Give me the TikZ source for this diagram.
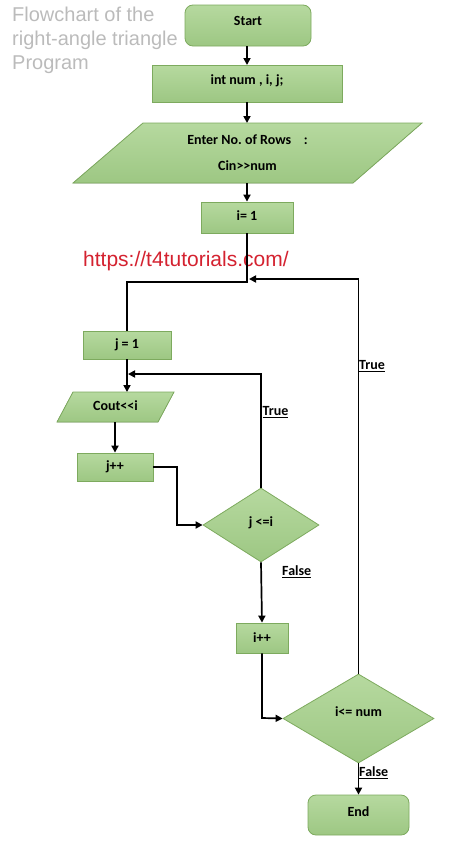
\documentclass[tikz,border=0pt]{standalone}
\usepackage{fontspec}
\setmainfont{Carlito}
\newfontfamily\arialfont{Liberation Sans}
\usetikzlibrary{shapes.geometric,arrows.meta}
\definecolor{boxtop}{HTML}{B6D99F}
\definecolor{boxbot}{HTML}{9DC783}
\definecolor{boxline}{HTML}{7DAA5E}
\definecolor{titlegray}{HTML}{BBBBBB}
\definecolor{urlred}{HTML}{D42230}
\frenchspacing
\begin{document}
\begin{tikzpicture}[x=1pt,y=-1pt,
  boxtxt/.style={font=\bfseries\fontsize{14}{16}\selectfont},
  lift/.style={text height=10pt, text depth=#1},
  greenfill/.style={draw=boxline, line width=0.8pt, top color=boxtop, bottom color=boxbot},
  proc/.style={greenfill, boxtxt, rectangle, inner sep=0pt},
  term/.style={proc, rounded corners=8pt},
  decide/.style={greenfill, boxtxt, diamond, inner sep=0pt},
  ionode/.style={boxtxt, rectangle, inner sep=0pt},
  conn/.style={line width=1.7pt, black},
  arr/.style={conn, -{Triangle[length=7pt,width=7pt]}},
  lbl/.style={font=\bfseries\fontsize{14}{16}\selectfont, anchor=west, inner sep=0pt}
]
\useasboundingbox (0,0) rectangle (464,846);

% title and url
\node[anchor=north west, align=left, inner sep=0pt, text=titlegray,
      font=\arialfont\fontsize{20}{24}\selectfont] (title) at (12,7)
  {Flowchart of the\\right-angle triangle\\Program};

% nodes
\node[term, lift=10pt, minimum width=126pt, minimum height=41pt] (start) at (248,25.5) {Start};
\node[proc, lift=9pt, minimum width=190pt, minimum height=37pt] (decl) at (247,83.5) {int num , i, j;};

\fill[greenfill] (143,123) -- (422,123) -- (353,183) -- (73,183) -- cycle;
\node[ionode, minimum width=210pt, minimum height=60pt, align=center] (inp) at (247.5,153)
  {Enter No. of Rows\ \ \ \ :\\[10pt]Cin>\kern0pt>num};

\node[proc, lift=4pt, minimum width=92pt, minimum height=31pt] (ione) at (247,217.5) {i= 1};

\node[anchor=west, inner sep=0pt, text=urlred,
      font=\arialfont\fontsize{21}{24}\selectfont] (url) at (83,261) {https://t4tutorials.com/};

\node[proc, minimum width=88pt, minimum height=28pt] (jone) at (127,345) {j = 1};

\fill[greenfill] (73,392) -- (174,392) -- (158,422) -- (57,422) -- cycle;
\node[ionode, lift=4pt, minimum width=90pt, minimum height=30pt] (cout) at (115.5,407) {Cout<\kern0pt<i};

\node[proc, minimum width=76pt, minimum height=28pt] (jpp) at (115,467) {j++};

\node[decide, lift=8pt, minimum width=116pt, minimum height=74pt] (djj) at (261,525) {j <=i};

\node[proc, minimum width=52pt, minimum height=30pt] (ipp) at (262,638) {i++};

\node[decide, lift=14pt, minimum width=151pt, minimum height=89pt] (dii) at (358.5,718.5) {i<= num};

\node[term, lift=8pt, minimum width=101pt, minimum height=40pt] (end) at (358.5,815) {End};

% helper coordinates
\coordinate (s1) at (247,46);
\coordinate (s2) at (247,65);
\coordinate (s3) at (247,102);
\coordinate (s4) at (247,123);
\coordinate (s5) at (247,183);
\coordinate (jA) at (247,282);
\coordinate (jB) at (127,282);
\coordinate (jJ) at (127,392);
\coordinate (jK) at (115,422);
\coordinate (jC) at (128,374);
\coordinate (jD) at (249,279);
\coordinate (jE) at (177,467);
\coordinate (jF) at (177,525);
\coordinate (jG) at (262,718);

% connectors
\draw[arr] (s1) -- (s2);
\draw[arr] (s3) -- (s4);
\draw[arr] (s5) -- (ione.north);
\draw[conn] (ione.south) -- (jA) -- (jB) -- (jone.north);
\draw[arr] (jone.south) -- (jJ);
\draw[arr] (jK) -- (jpp.north);
\draw[arr] (jpp.east) -- (jE) -- (jF) -- (djj.west);
\draw[arr] (djj.north) -- (djj.north |- jC) -- (jC);
\draw[arr] (djj.south) -- (ipp.north);
\draw[arr] (ipp.south) -- (jG) -- (dii.west);
\draw[arr] (dii.north) -- (dii.north |- jD) -- (jD);
\draw[arr] (dii.south) -- (end.north);

% labels
\node[lbl] (t1) at (262.5,412) {\underline{True}};
\node[lbl] (f1) at (282,572) {\underline{False}};
\node[lbl] (t2) at (359,366) {\underline{True}};
\node[lbl] (f2) at (359,773) {\underline{False}};
\end{tikzpicture}
\end{document}
